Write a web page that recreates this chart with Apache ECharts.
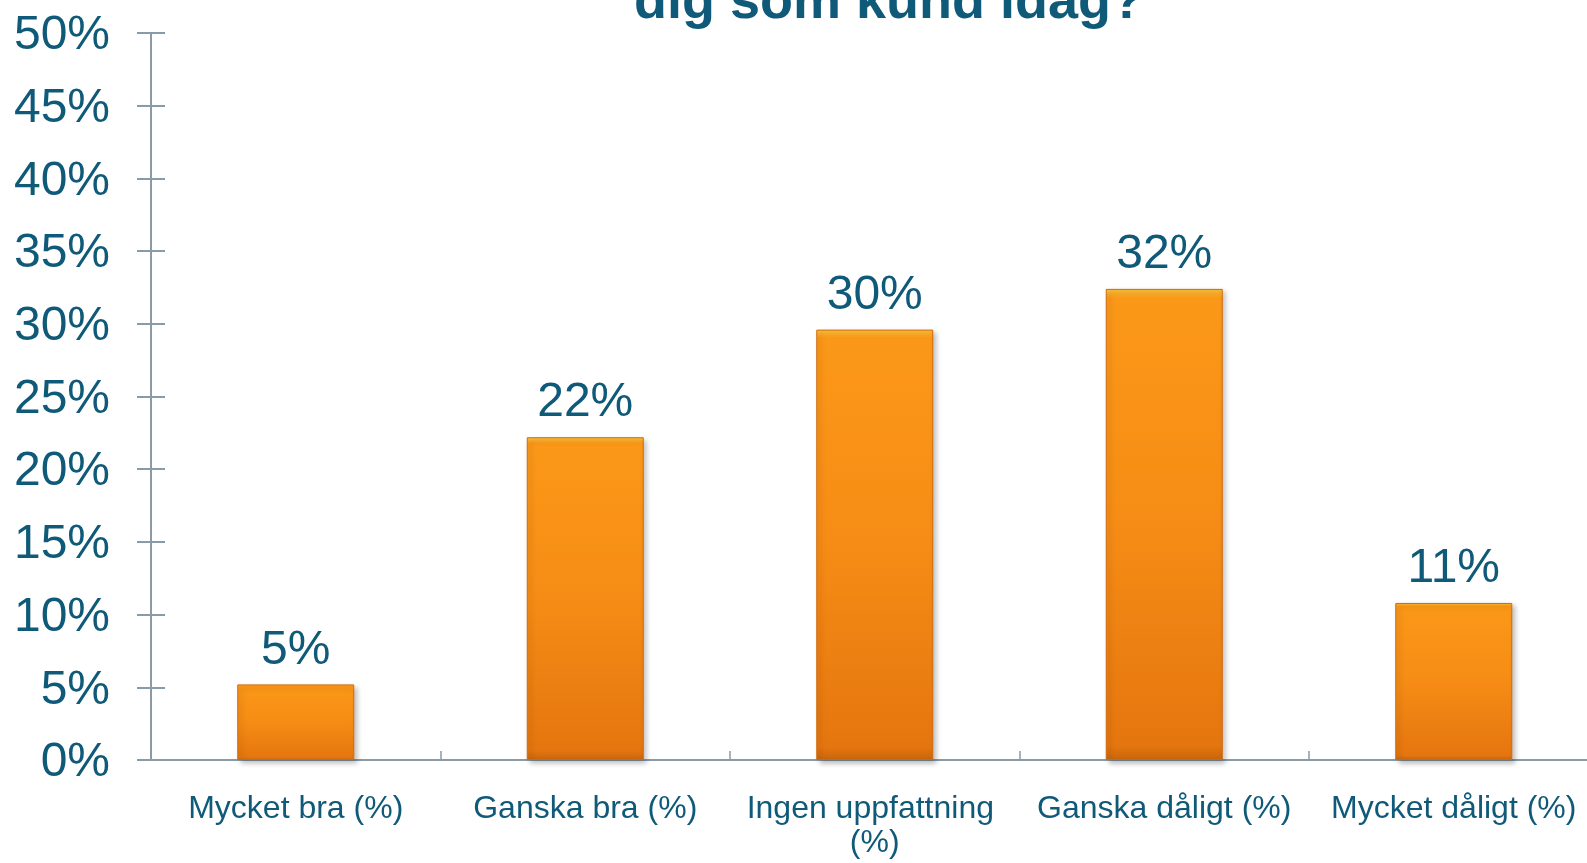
<!DOCTYPE html>
<html>
<head>
<meta charset="utf-8">
<script src="https://cdn.jsdelivr.net/npm/echarts@6/dist/echarts.min.js"></script>
<style>
html,body{margin:0;padding:0;background:#fff;overflow:hidden;width:1587px;height:863px;}
#main{width:1600px;height:863px;}
</style>
</head>
<body>
<div id="main"></div>
<script>
const titleText = 'dig som kund idag?';
const categories = ['Mycket bra (%)', 'Ganska bra (%)', 'Ingen uppfattning (%)', 'Ganska dåligt (%)', 'Mycket dåligt (%)'];
const values = [5.2, 22.2, 29.6, 32.4, 10.8];
const yTicks = {min: 0, max: 50, interval: 5};

const textColor = '#105A79';
const axisColor = '#8A9BA8';
const fontFam = '"Liberation Sans", Arial, sans-serif';

const chart = echarts.init(document.getElementById('main'));
chart.setOption({
  animation: false,
  backgroundColor: '#ffffff',
  graphic: [{
    type: 'text',
    x: 0, y: 0,
    style: {
      text: titleText,
      x: 889, y: 3,
      textAlign: 'center',
      textVerticalAlign: 'middle',
      fill: textColor,
      font: 'bold 54px ' + fontFam
    }
  }],
  grid: {left: 151, top: 33, bottom: 103, right: 1.5, containLabel: false},
  xAxis: {
    type: 'category',
    data: categories,
    axisLine: {lineStyle: {color: axisColor, width: 2}},
    axisTick: {show: true, inside: true, length: 9, lineStyle: {color: axisColor, width: 1.5}},
    axisLabel: {
      color: textColor, fontSize: 32, fontFamily: fontFam, margin: 32,
      lineHeight: 34, width: 280, overflow: 'break', interval: 0
    }
  },
  yAxis: [{
    type: 'value',
    min: yTicks.min, max: yTicks.max, interval: yTicks.interval,
    axisLine: {show: true, lineStyle: {color: axisColor, width: 2}},
    axisTick: {show: true, length: 14, lineStyle: {color: axisColor, width: 2}},
    splitLine: {show: false},
    axisLabel: {color: textColor, fontSize: 48, fontFamily: fontFam, margin: 41, formatter: '{value}%',
      verticalAlign: 'top', lineHeight: 6}
  }, {
    type: 'value', position: 'left',
    min: yTicks.min, max: yTicks.max, interval: yTicks.interval,
    axisLine: {show: false},
    axisTick: {show: true, inside: true, length: 14, lineStyle: {color: axisColor, width: 2}},
    splitLine: {show: false},
    axisLabel: {show: false}
  }],
  series: [{
    type: 'bar',
    data: values,
    barWidth: 117,
    itemStyle: {
      color: new echarts.graphic.LinearGradient(0, 0, 0, 1, [
        {offset: 0, color: '#FDC23A'},
        {offset: 0.02, color: '#FB9818'},
        {offset: 0.5, color: '#F68C15'},
        {offset: 0.97, color: '#E5760F'},
        {offset: 1, color: '#C9650C'}
      ]),
      borderColor: '#D06A0C',
      borderWidth: 1,
      shadowBlur: 5,
      shadowOffsetX: 3,
      shadowOffsetY: 3,
      shadowColor: 'rgba(0,0,0,0.25)'
    },
    label: {
      show: true, position: 'top', distance: 10,
      color: textColor, fontSize: 48, fontFamily: fontFam,
      formatter: p => Math.round(p.value) + '%'
    }
  }]
});
</script>
</body>
</html>
